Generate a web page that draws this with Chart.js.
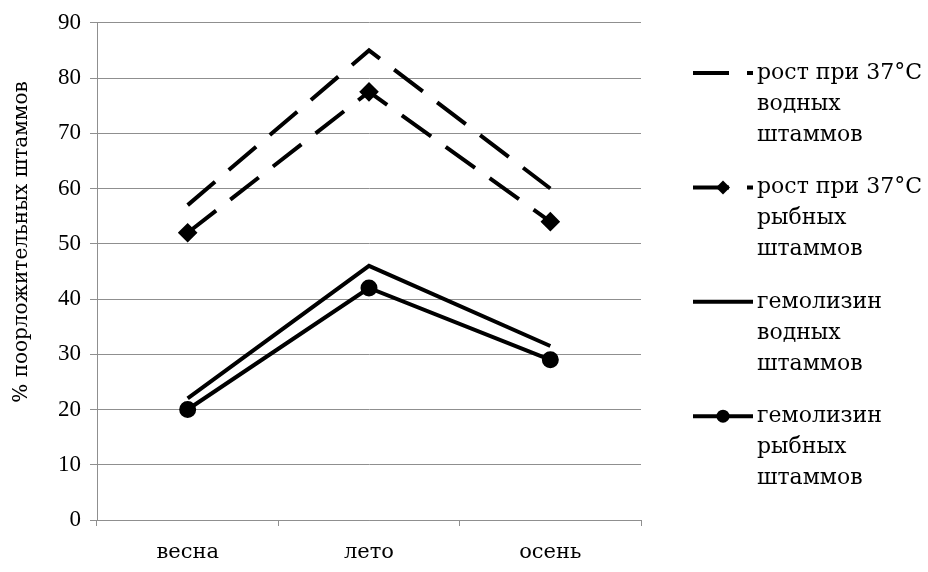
<!DOCTYPE html>
<html>
<head>
<meta charset="utf-8">
<script src="https://cdn.jsdelivr.net/npm/chart.js@4.4.1/dist/chart.umd.min.js"></script>
<style>
  html, body { margin: 0; padding: 0; background: #fff; }
</style>
</head>
<body>
<canvas id="chart" width="928" height="572"></canvas>
<script>
// Data
const seasons = ['весна', 'лето', 'осень'];
const growthWater = [57, 85, 60];        // рост при 37°C, водные штаммы
const growthFish = [52, 77.5, 54];       // рост при 37°C, рыбные штаммы
const hemolysinWater = [22, 46, 31.5];   // гемолизин, водные штаммы
const hemolysinFish = [20, 42, 29];      // гемолизин, рыбные штаммы
const yTicks = [0, 10, 20, 30, 40, 50, 60, 70, 80, 90];
const yTitle = '% поорложительных штаммов';
const legendLabels = [
  ['рост при 37°C', 'водных', 'штаммов'],
  ['рост при 37°C', 'рыбных', 'штаммов'],
  ['гемолизин', 'водных', 'штаммов'],
  ['гемолизин', 'рыбных', 'штаммов']
];

const FONT = 'DejaVu Serif';
const NUM_FONT = 'Liberation Serif';
const GRID = '#8f8f8f';
const DASH = [36, 18];

// y title sits a bit above the middle in the original, so draw it here
const yTitlePlugin = {
  id: 'yTitlePlugin',
  afterDraw(chart) {
    const ctx = chart.ctx;
    ctx.save();
    ctx.translate(22, 242);
    ctx.rotate(-Math.PI / 2);
    ctx.font = '20px "' + FONT + '"';
    ctx.textAlign = 'center';
    ctx.textBaseline = 'middle';
    ctx.fillStyle = '#000';
    ctx.fillText(yTitle, 0, 0);
    ctx.restore();
  }
};

// Legend drawn on the right, lines wrapped like the original
const sideLegend = {
  id: 'sideLegend',
  afterDraw(chart) {
    const ctx = chart.ctx;
    const x0 = 693, x1 = 753, textX = 757;
    ctx.save();
    ctx.font = '22px "' + FONT + '"';
    ctx.textBaseline = 'middle';
    ctx.fillStyle = '#000';
    chart.data.datasets.forEach((ds, i) => {
      const y = 73 + i * 114.4;
      ctx.strokeStyle = '#000';
      ctx.lineWidth = ds.borderWidth;
      ctx.setLineDash(ds.borderDash || []);
      ctx.beginPath();
      ctx.moveTo(x0, y);
      ctx.lineTo(x1, y);
      ctx.stroke();
      ctx.setLineDash([]);
      const mx = 723, r = ds.pointRadius;
      if (ds.pointStyle === 'rectRot' && r > 0) {
        ctx.beginPath();
        ctx.moveTo(mx, y - r);
        ctx.lineTo(mx + r, y);
        ctx.lineTo(mx, y + r);
        ctx.lineTo(mx - r, y);
        ctx.closePath();
        ctx.fill();
      } else if (ds.pointStyle === 'circle' && r > 0) {
        ctx.beginPath();
        ctx.arc(mx, y, r, 0, Math.PI * 2);
        ctx.fill();
      }
      legendLabels[i].forEach((line, j) => {
        ctx.fillText(line, textX, y + j * 31);
      });
    });
    ctx.restore();
  }
};

new Chart(document.getElementById('chart'), {
  type: 'line',
  data: {
    labels: seasons,
    datasets: [
      {
        label: legendLabels[0].join(' '),
        data: growthWater,
        borderColor: '#000',
        backgroundColor: '#000',
        borderWidth: 4,
        borderDash: DASH,
        pointRadius: 0,
        pointStyle: false
      },
      {
        label: legendLabels[1].join(' '),
        data: growthFish,
        borderColor: '#000',
        backgroundColor: '#000',
        borderWidth: 4,
        borderDash: DASH,
        pointStyle: 'rectRot',
        pointRadius: 7
      },
      {
        label: legendLabels[2].join(' '),
        data: hemolysinWater,
        borderColor: '#000',
        backgroundColor: '#000',
        borderWidth: 4,
        pointRadius: 0,
        pointStyle: false
      },
      {
        label: legendLabels[3].join(' '),
        data: hemolysinFish,
        borderColor: '#000',
        backgroundColor: '#000',
        borderWidth: 4,
        pointStyle: 'circle',
        pointRadius: 6.5
      }
    ]
  },
  options: {
    responsive: false,
    animation: false,
    layout: { padding: { top: 21, right: 287, bottom: 0, left: 0 } },
    elements: { line: { tension: 0, borderJoinStyle: 'miter' } },
    scales: {
      y: {
        min: 0,
        max: 90,
        afterBuildTicks(scale) {
          scale.ticks = yTicks.map(v => ({ value: v }));
        },
        afterFit(scale) { scale.width = 97; },
        border: { color: GRID, width: 1 },
        grid: { color: GRID, lineWidth: 1, tickLength: 7 },
        ticks: {
          color: '#000',
          padding: 9,
          font: { family: NUM_FONT, size: 23 }
        }
      },
      x: {
        offset: true,
        afterFit(scale) { scale.height = 52; },
        border: { color: GRID, width: 1 },
        grid: { offset: true, drawOnChartArea: false, color: GRID, tickLength: 6 },
        ticks: {
          color: '#000',
          padding: 14,
          font: { family: FONT, size: 21 }
        }
      }
    },
    plugins: {
      legend: { display: false },
      tooltip: { enabled: false }
    }
  },
  plugins: [sideLegend, yTitlePlugin]
});
</script>
</body>
</html>
